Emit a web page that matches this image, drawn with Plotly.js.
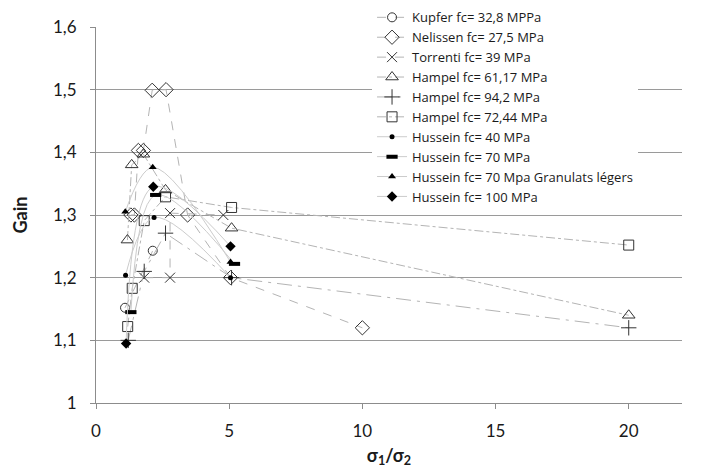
<!DOCTYPE html>
<html>
<head>
<meta charset="utf-8">
<script src="https://cdn.plot.ly/plotly-3.0.1.min.js"></script>
<style>html,body{margin:0;padding:0;background:#fff;}#chart{width:710px;height:475px;}</style>
</head>
<body>
<div id="chart"></div>
<script>
// ---- data ----
const seriesNames = [
  "Kupfer fc= 32,8 MPPa",
  "Nelissen fc= 27,5 MPa",
  "Torrenti fc= 39 MPa",
  "Hampel fc= 61,17 MPa",
  "Hampel fc= 94,2 MPa",
  "Hampel fc= 72,44 MPa",
  "Hussein fc= 40 MPa",
  "Hussein fc= 70 MPa",
  "Hussein fc= 70 Mpa Granulats légers",
  "Hussein fc= 100 MPa"
];
const kupferX = [1.09, 2.13];
const kupferY = [1.152, 1.243];
const nelissenX = [1.31, 1.44, 1.59, 1.78, 2.11, 2.63, 3.44, 5.05, 10.0];
const nelissenY = [1.30, 1.30, 1.403, 1.403, 1.499, 1.50, 1.30, 1.20, 1.12];
const torrentiX = [1.81, 2.78, 2.78, 4.78];
const torrentiY = [1.20, 1.20, 1.303, 1.30];
const hampel61X = [1.18, 1.34, 1.78, 2.61, 5.09, 20];
const hampel61Y = [1.26, 1.38, 1.397, 1.34, 1.279, 1.14];
const hampel94X = [1.21, 1.81, 2.61, 5.09, 20];
const hampel94Y = [1.10, 1.21, 1.271, 1.20, 1.12];
const hampel72X = [1.19, 1.36, 1.81, 2.61, 5.09, 20];
const hampel72Y = [1.122, 1.183, 1.291, 1.329, 1.312, 1.252];
const hussein40X = [1.11, 2.18, 5.05];
const hussein40Y = [1.204, 1.296, 1.20];
const hussein70X = [1.31, 2.24, 5.2];
const hussein70Y = [1.145, 1.332, 1.222];
const husseinGLX = [1.10, 2.13, 5.05];
const husseinGLY = [1.305, 1.376, 1.225];
const hussein100X = [1.13, 2.15, 5.05];
const hussein100Y = [1.095, 1.345, 1.25];

const xTickVals = [0, 5, 10, 15, 20];
const xTickText = ["0", "5", "10", "15", "20"];
const yTickVals = [1, 1.1, 1.2, 1.3, 1.4, 1.5, 1.6];
const yTickText = ["1", "1,1", "1,2", "1,3", "1,4", "1,5", "1,6"];

// ---- styling ----
const lineGray = "#b4b4b4";
const mk = "#333333";
function tr(name, x, y, marker, line) {
  return {type: "scatter", mode: "lines+markers", name: name, x: x, y: y,
          marker: marker, line: Object.assign({color: lineGray, width: 1}, line)};
}
const openM = (sym, size) => ({symbol: sym, size: size, color: mk, line: {color: mk, width: 1}});
const data = [
  tr(seriesNames[0], kupferX, kupferY, openM("circle-open", 9), {dash: "dash"}),
  tr(seriesNames[1], nelissenX, nelissenY, openM("diamond-open", 11), {dash: "dash"}),
  tr(seriesNames[2], torrentiX, torrentiY, openM("x-thin-open", 10), {dash: "dash"}),
  tr(seriesNames[3], hampel61X, hampel61Y, openM("triangle-up-open", 11), {dash: "dashdot"}),
  tr(seriesNames[4], hampel94X, hampel94Y, openM("cross-thin-open", 11), {dash: "longdashdot"}),
  tr(seriesNames[5], hampel72X, hampel72Y, openM("square-open", 10), {dash: "dashdot"}),
  tr(seriesNames[6], hussein40X, hussein40Y, {symbol: "circle", size: 5, color: "#000"}, {shape: "spline", color: "#cccccc"}),
  tr(seriesNames[7], hussein70X, hussein70Y, {symbol: "line-ew-open", size: 8, color: "#000", line: {color: "#000", width: 4}}, {shape: "spline", color: "#cccccc"}),
  tr(seriesNames[8], husseinGLX, husseinGLY, {symbol: "triangle-up", size: 7, color: "#000"}, {shape: "spline", color: "#cccccc"}),
  tr(seriesNames[9], hussein100X, hussein100Y, {symbol: "diamond", size: 8, color: "#000"}, {shape: "spline", color: "#cccccc"})
];

const layout = {
  width: 710, height: 475,
  margin: {l: 96, r: 28, t: 27, b: 72, autoexpand: false},
  paper_bgcolor: "#fff", plot_bgcolor: "#fff",
  font: {family: "Lato, 'Open Sans', sans-serif", size: 17, color: "#1a1a1a"},
  showlegend: true,
  legend: {xref: "container", yref: "container", x: 0.524, y: 0.995, xanchor: "left", yanchor: "top", bgcolor: "#fff",
           font: {family: "'Open Sans', sans-serif", size: 13, color: "#1a1a1a"}, tracegroupgap: 0, itemwidth: 30},
  xaxis: {range: [0, 22], tickvals: xTickVals, ticktext: xTickText,
          showgrid: false, zeroline: false, showline: true, linecolor: "#8c8c8c", linewidth: 1,
          ticks: "outside", ticklen: 5, tickcolor: "#8c8c8c", ticklabelstandoff: 8,
          title: {text: "<b>σ<sub>1</sub>/σ<sub>2</sub></b>", font: {size: 18}, standoff: 8}},
  yaxis: {range: [1, 1.6], tickvals: yTickVals, ticktext: yTickText,
          showgrid: true, gridcolor: "#9a9a9a", gridwidth: 1, zeroline: false,
          showline: true, linecolor: "#8c8c8c", linewidth: 1,
          ticks: "outside", ticklen: 5, tickcolor: "#8c8c8c", ticklabelstandoff: 10,
          title: {text: "<b>Gain</b>", font: {size: 18}, standoff: 20}}
};
Plotly.newPlot("chart", data, layout, {displayModeBar: false, staticPlot: true});
</script>
</body>
</html>
